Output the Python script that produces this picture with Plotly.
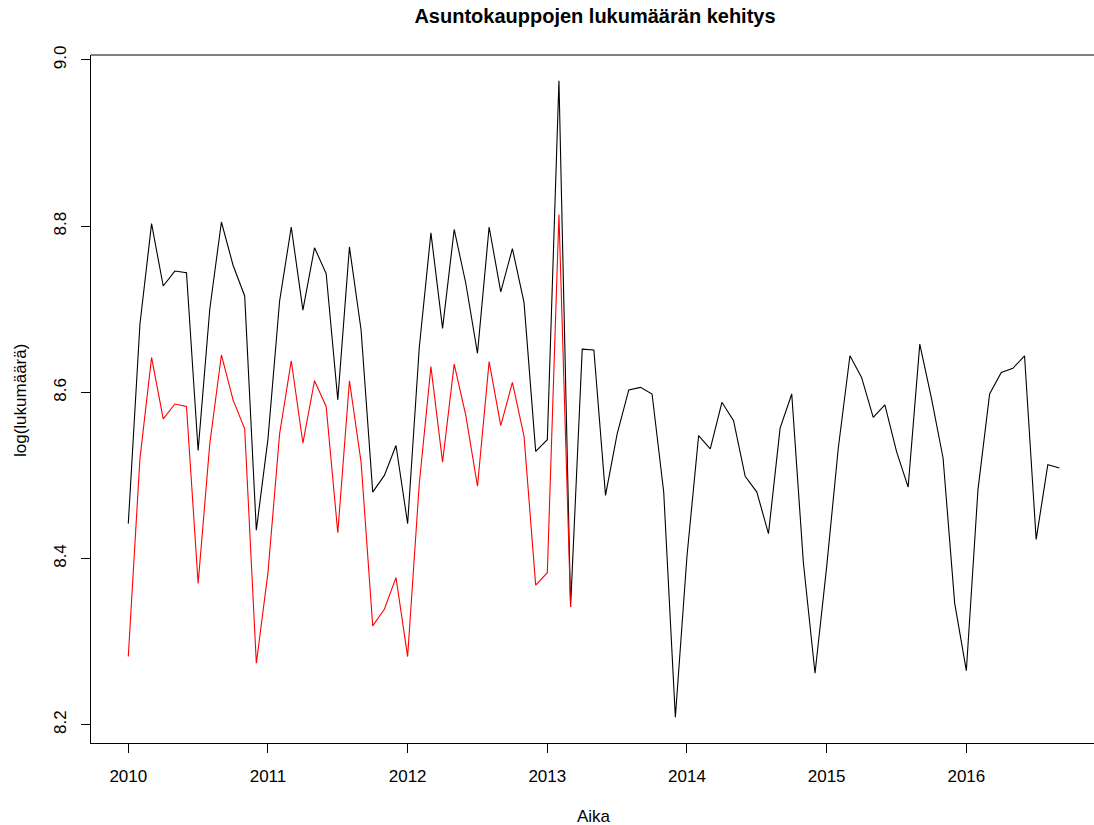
import plotly.graph_objects as go

start_year = 2010
black_values = [8.442, 8.682, 8.803, 8.728, 8.746, 8.744, 8.530, 8.700, 8.805, 8.753, 8.716, 8.434,
                8.544, 8.710, 8.799, 8.699, 8.774, 8.743, 8.591, 8.775, 8.675, 8.480, 8.500, 8.536,
                8.442, 8.654, 8.792, 8.677, 8.796, 8.731, 8.647, 8.799, 8.721, 8.773, 8.708, 8.529,
                8.543, 8.975, 8.342, 8.652, 8.651, 8.476, 8.550, 8.603, 8.606, 8.598, 8.480, 8.209,
                8.403, 8.548, 8.532, 8.588, 8.566, 8.499, 8.480, 8.430, 8.557, 8.598, 8.395, 8.262,
                8.390, 8.533, 8.644, 8.618, 8.570, 8.585, 8.529, 8.486, 8.658, 8.593, 8.521, 8.346,
                8.265, 8.483, 8.598, 8.624, 8.629, 8.644, 8.423, 8.513, 8.509]
red_values = [8.282, 8.520, 8.642, 8.568, 8.586, 8.583, 8.370, 8.538, 8.645, 8.591, 8.556, 8.274,
              8.383, 8.550, 8.638, 8.539, 8.614, 8.583, 8.431, 8.614, 8.516, 8.319, 8.339, 8.377,
              8.282, 8.490, 8.631, 8.516, 8.634, 8.572, 8.487, 8.637, 8.560, 8.612, 8.547, 8.368,
              8.383, 8.814, 8.342]
x_ticks = [2010, 2011, 2012, 2013, 2014, 2015, 2016]
x_tick_labels = ["2010", "2011", "2012", "2013", "2014", "2015", "2016"]
y_ticks = [8.2, 8.4, 8.6, 8.8, 9.0]
y_tick_labels = ["8.2", "8.4", "8.6", "8.8", "9.0"]

t_black = [start_year + i / 12 for i in range(len(black_values))]
t_red = [start_year + i / 12 for i in range(len(red_values))]

FONT = "Liberation Sans, Arial, Helvetica, sans-serif"

fig = go.Figure()
fig.add_trace(go.Scatter(x=t_black, y=black_values, mode="lines",
                         line=dict(color="black", width=1.1), showlegend=False))
fig.add_trace(go.Scatter(x=t_red, y=red_values, mode="lines",
                         line=dict(color="red", width=1.1), showlegend=False))

fig.update_layout(
    width=1094, height=825,
    margin=dict(l=91, r=0, t=55, b=82, pad=0),
    paper_bgcolor="white", plot_bgcolor="white",
    font=dict(family=FONT, size=17, color="black"),
    title=dict(text="<b>Asuntokauppojen lukumäärän kehitys</b>",
               x=595 / 1094, xanchor="center", xref="container",
               y=1 - 16 / 825, yanchor="middle", yref="container",
               font=dict(family=FONT, size=20, color="black")),
    xaxis=dict(range=[2009.733, 2016.914], tickvals=x_ticks, ticktext=x_tick_labels,
               showgrid=False, zeroline=False, showline=True, linecolor="black", linewidth=1,
               ticks="outside", ticklen=9, tickcolor="black", tickwidth=1,
               ticklabelstandoff=9, tickfont=dict(size=17)),
    yaxis=dict(range=[8.178, 9.006], tickvals=y_ticks, ticktext=y_tick_labels,
               showgrid=False, zeroline=False, showline=True, linecolor="black", linewidth=1,
               ticks="outside", ticklen=9, tickcolor="black", tickwidth=1,
               tickangle=-90, ticklabelstandoff=8, tickfont=dict(size=17)),
    shapes=[dict(type="line", xref="paper", yref="paper", x0=0, x1=1, y0=1, y1=1,
                 line=dict(color="black", width=1))],
    annotations=[
        dict(text="Aika", xref="paper", yref="paper", x=(594 - 91) / 1003, y=(743 - 816) / 688,
             xanchor="center", yanchor="middle", showarrow=False, font=dict(size=17)),
        dict(text="log(lukumäärä)", xref="paper", yref="paper", x=(20 - 91) / 1003,
             y=(743 - 401) / 688, xanchor="center", yanchor="middle", textangle=-90,
             showarrow=False, font=dict(size=17)),
    ],
)

fig.write_html("out.html")
